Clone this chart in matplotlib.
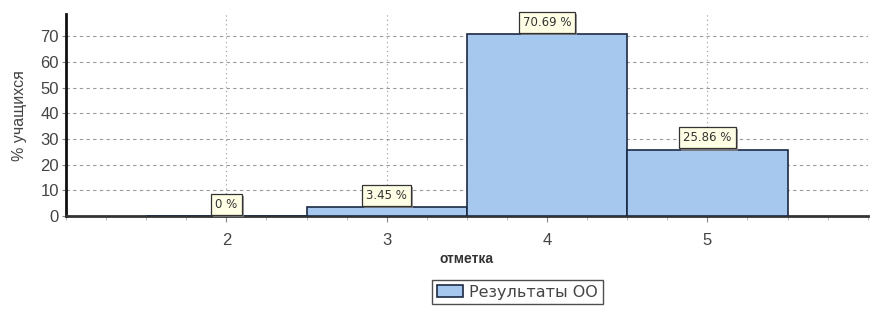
import matplotlib
matplotlib.use("Agg")
import matplotlib.pyplot as plt
import matplotlib.patheffects as pe
from matplotlib.ticker import MultipleLocator

plt.rcParams['font.family'] = ['Liberation Sans', 'DejaVu Sans']

# data
grades = [2, 3, 4, 5]
percents = [0, 3.45, 70.69, 25.86]
labels = ["0 %", "3.45 %", "70.69 %", "25.86 %"]
series_name = "Результаты ОО"

bar_color = "#a6c8ee"
edge_color = "#1c2a44"

fig = plt.figure(figsize=(8.8, 3.14), dpi=100)
ax = fig.add_axes([0.075, 0.312, 0.911, 0.643])

ax.bar(grades, percents, width=1.0, color=bar_color, edgecolor=edge_color,
       linewidth=1.2, label=series_name, zorder=3)

ax.set_xlim(1, 6)
ax.set_ylim(0, 78.6)
ax.set_xticks(grades)
ax.set_yticks(range(0, 80, 10))
ax.xaxis.set_minor_locator(MultipleLocator(0.25))

# grid: dashed horizontal, dotted vertical
ax.yaxis.grid(True, linestyle=(0, (3, 3)), color="#9a9a9a", linewidth=0.8, zorder=0)
ax.xaxis.grid(True, linestyle=(0, (1, 3)), color="#9a9a9a", linewidth=0.8, zorder=0)

for s in ['top', 'right']:
    ax.spines[s].set_visible(False)
ax.spines['left'].set_linewidth(2)
ax.spines['bottom'].set_linewidth(2)
ax.spines['bottom'].set_color("#333333")
ax.spines['left'].set_color("#111111")

ax.tick_params(axis='both', labelsize=12, labelcolor="#444444", color="#888888")
ax.tick_params(axis='x', which='major', length=4, pad=8)
ax.tick_params(axis='x', which='minor', length=3, color="#aaaaaa")
ax.tick_params(axis='y', length=3, pad=2)

ax.set_ylabel("% учащихся", fontsize=11.5, color="#444444", labelpad=10)
ax.set_xlabel("отметка", fontsize=10, fontweight='bold', color="#333333", labelpad=3)

# value labels in yellow boxes
for x, v, t in zip(grades, percents, labels):
    ax.annotate(t, xy=(x, v), xytext=(0, 8.5), textcoords="offset points",
                ha='center', va='center', fontsize=8.5, color="#333333",
                family='DejaVu Sans',
                bbox=dict(boxstyle="square,pad=0.35", fc="#ffffe6", ec="#333333", lw=0.9,
                          path_effects=[pe.withSimplePatchShadow(offset=(1.5, -1.5), shadow_rgbFace="#888888", alpha=0.8)]),
                zorder=5)

leg = fig.legend(loc='lower center', bbox_to_anchor=(0.588, 0.005), ncol=1,
                 prop={'family': 'DejaVu Sans', 'size': 11.5},
                 frameon=True, fancybox=False, edgecolor="#222222", handlelength=1.6,
                 handleheight=0.8, borderpad=0.3, handletextpad=0.4)
leg.get_frame().set_linewidth(1.0)
for t in leg.get_texts():
    t.set_color("#444444")

fig.savefig("out.png", dpi=100)
